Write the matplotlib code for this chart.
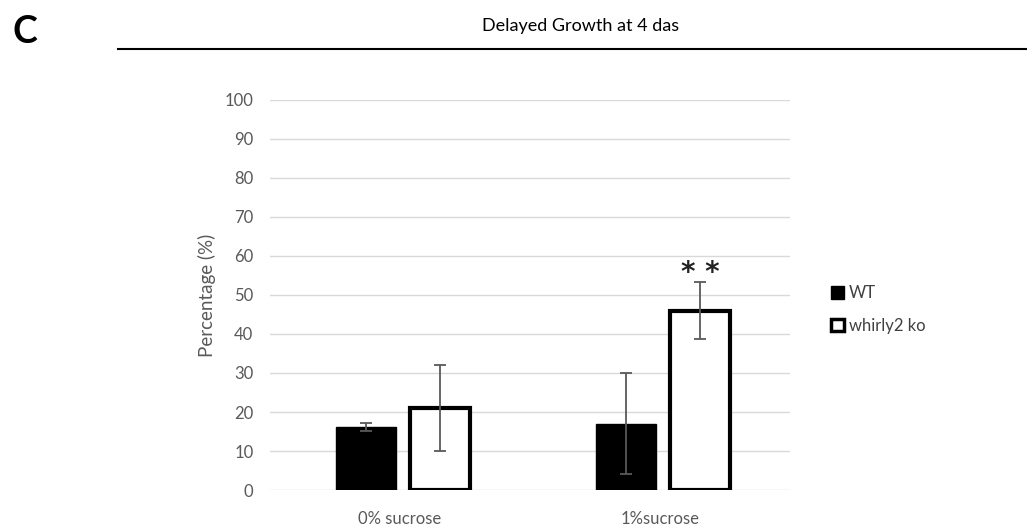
#Delayed growth bar chart (WT vs whirly2 ko)
import numpy as np
import matplotlib.pyplot as plt
from matplotlib.lines import Line2D
from matplotlib.patches import Patch

plt.rcParams['font.family'] = ['Lato', 'DejaVu Sans']

#Data
conditions = ['0% sucrose', '1%sucrose']
wt_mean = [16.2, 17.0]
wt_err = [1.0, 13.0]
ko_mean = [21.0, 46.0]
ko_err = [11.0, 7.3]
stars = ['', '* *']

fig = plt.figure(figsize=(10.27, 5.26), dpi=100)
ax = fig.add_axes([0.263, 0.0684, 0.506, 0.7416])

x = np.arange(len(conditions))
w = 0.23
grey = '#595959'

ax.bar(x - 0.13, wt_mean, w, color='black', edgecolor='black', zorder=3)
ax.errorbar(x - 0.13, wt_mean, yerr=wt_err, fmt='none', ecolor=grey,
            elinewidth=1.3, capsize=4, capthick=1.3, zorder=4)
ax.bar(x + 0.155, ko_mean, w, color='white', edgecolor='black',
       linewidth=3, zorder=3)
ax.errorbar(x + 0.155, ko_mean, yerr=ko_err, fmt='none', ecolor=grey,
            elinewidth=1.3, capsize=4, capthick=1.3, zorder=4)

#Significance marks
for xi, m, e, s in zip(x, ko_mean, ko_err, stars):
    if s:
        ax.text(xi + 0.155, m + e - 1.2, s, ha='center', va='bottom',
                fontsize=20, fontweight='bold', color='#222222',
                fontfamily='DejaVu Sans')

ax.set_xlim(-0.5, 1.5)
ax.set_ylim(0, 100)
ax.set_yticks(np.arange(0, 101, 10))
ax.set_xticks(x)
ax.set_xticklabels(conditions)
ax.tick_params(length=0, labelsize=12, labelcolor=grey, pad=12)
ax.tick_params(axis='x', pad=15)
ax.grid(axis='y', color='#d9d9d9', linewidth=1, zorder=0)
for sp in ax.spines.values():
    sp.set_visible(False)
ax.set_ylabel('Percentage (%)', fontsize=13.5, color=grey, labelpad=6)

#Legend
handles = [Patch(facecolor='black', edgecolor='black', linewidth=1),
           Patch(facecolor='white', edgecolor='black', linewidth=2.5)]
fig.legend(handles, ['WT', 'whirly2 ko'], loc='upper left',
           bbox_to_anchor=(0.795, 0.486), frameon=False, fontsize=12,
           labelcolor='#404040', handlelength=0.75, handleheight=0.75,
           handletextpad=0.3, labelspacing=1.0)

#Title with rule underneath
fig.text(0.565, 0.95, 'Delayed Growth at 4 das', ha='center', va='center',
         fontsize=13, color='black')
fig.add_artist(Line2D([0.115, 1.0], [0.907, 0.907], color='black', linewidth=1.5))
fig.text(0.012, 0.94, 'C', ha='left', va='center', fontsize=27,
         fontweight='bold', color='black')

fig.savefig('out.png', dpi=100)
